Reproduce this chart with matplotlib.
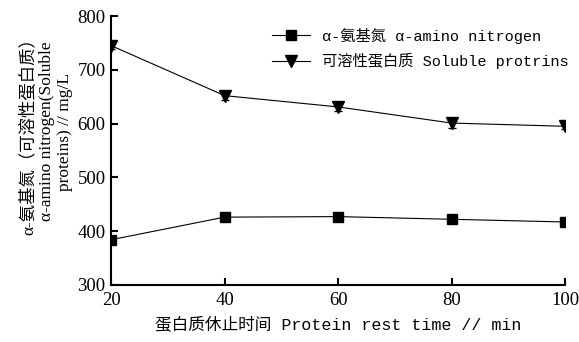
import matplotlib
matplotlib.use('Agg')
import matplotlib.pyplot as plt
from matplotlib.lines import Line2D

# data
time = [20, 40, 60, 80, 100]
amino = [384, 426, 427, 422, 417]
amino_err = [4, 4, 3, 3, 3]
protein = [745, 652, 631, 601, 595]
protein_err = [6, 9, 7, 9, 5]

serif = ['Liberation Serif', 'Noto Sans CJK SC']
mono = ['Liberation Mono', 'Noto Sans CJK SC']

fig = plt.figure(figsize=(5.79, 3.42), dpi=100)
ax = fig.add_axes([0.192, 0.167, 0.784, 0.786])

ax.errorbar(time, amino, yerr=amino_err, color='k', lw=0.8, marker='s', ms=7,
            capsize=3, elinewidth=0.7)
ax.errorbar(time, protein, yerr=protein_err, color='k', lw=0.8, marker='v', ms=8,
            capsize=3, elinewidth=0.7)

ax.set_xlim(20, 100)
ax.set_ylim(300, 800)
ax.set_xticks([20, 40, 60, 80, 100])
ax.set_yticks([300, 400, 500, 600, 700, 800])
for s in ['top', 'right']:
    ax.spines[s].set_visible(False)
for s in ['left', 'bottom']:
    ax.spines[s].set_linewidth(1.5)
ax.tick_params(direction='in', length=5, width=1.5, labelsize=13.5)
ax.tick_params(axis='x', pad=5)
ax.tick_params(axis='y', pad=4)
for lab in ax.get_xticklabels() + ax.get_yticklabels():
    lab.set_family(serif)

ax.set_xlabel('蛋白质休止时间 Protein rest time // min', family=mono, fontsize=12, labelpad=6)
ax.set_ylabel('α-氨基氮（可溶性蛋白质）\nα-amino nitrogen(Soluble\nproteins) // mg/L',
              family=serif, fontsize=12.5, linespacing=1.15)
ax.yaxis.set_label_coords(-0.085, 0.57)

handles = [Line2D([], [], color='k', lw=0.8, marker='s', ms=7),
           Line2D([], [], color='k', lw=0.8, marker='v', ms=8)]
labels = ['α-氨基氮 α-amino nitrogen', '可溶性蛋白质 Soluble protrins']
ax.legend(handles, labels, loc='upper right', bbox_to_anchor=(1.025, 0.985),
          frameon=False, prop={'family': mono, 'size': 11}, handlelength=2.5,
          borderaxespad=0.1, labelspacing=0.6)

fig.savefig('out.png', dpi=100)
